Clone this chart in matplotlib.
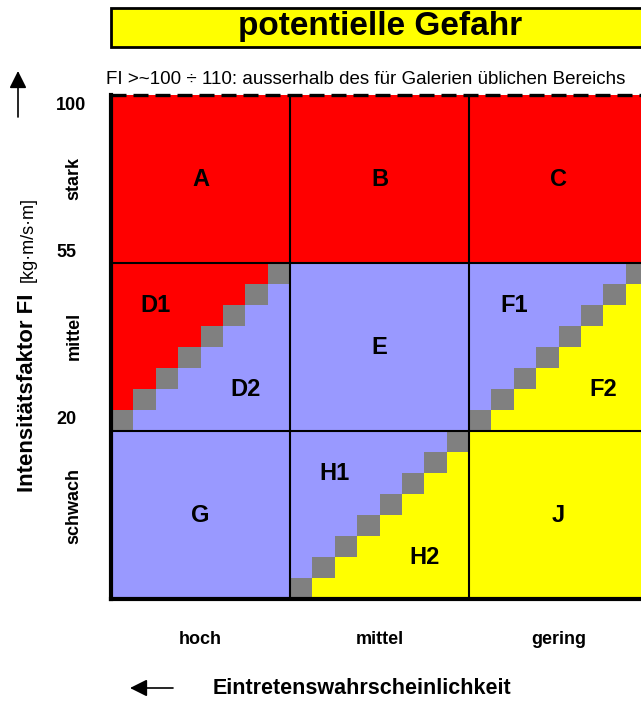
import matplotlib
matplotlib.use('Agg')
import matplotlib.pyplot as plt
import numpy as np
from matplotlib.colors import ListedColormap
from matplotlib.patches import Rectangle, FancyArrowPatch
import matplotlib.transforms as mtransforms

plt.rcParams['font.family'] = ['Liberation Sans', 'DejaVu Sans']

# --- data -------------------------------------------------------------
likelihood = ['hoch', 'mittel', 'gering']        # columns, left -> right
intensity = ['schwach', 'mittel', 'stark']       # rows, bottom -> top
fi_limits = ['20', '55', '100']
title = 'potentielle Gefahr'
note = 'FI >~100 \u00f7 110: ausserhalb des f\u00fcr Galerien \u00fcblichen Bereichs'
ylabel = 'Intensit\u00e4tsfaktor FI'
yunit = '[kg\u00b7m/s\u00b7m]'
xlabel = 'Eintretenswahrscheinlichkeit'

# zones per row (bottom -> top)
zone_names = [['G', 'H', 'J'],
              ['D', 'E', 'F'],
              ['A', 'B', 'C']]
# colour index: 0 red, 1 blue, 2 yellow, 3 grey (transition)
zone_upper = [[1, 1, 2],
              [0, 1, 1],
              [0, 0, 0]]
zone_lower = [[1, 2, 2],
              [1, 1, 2],
              [0, 0, 0]]
n_steps = 8
colors = ['#ff0000', '#9999ff', '#ffff00', '#808080']

# --- build colour grid -------------------------------------------------
grid = np.zeros((3 * n_steps, 3 * n_steps), dtype=int)
for r in range(3):
    for c in range(3):
        up, lo = zone_upper[r][c], zone_lower[r][c]
        for i in range(n_steps):
            for j in range(n_steps):
                if up == lo:
                    v = up
                elif i == j:
                    v = 3
                elif i > j:
                    v = up
                else:
                    v = lo
                grid[r * n_steps + i, c * n_steps + j] = v

W, H = 641, 702
fig = plt.figure(figsize=(W / 100, H / 100), dpi=100)


def fx(px):
    return px / W


def fy(py):
    return 1 - py / H


ax = fig.add_axes([fx(111), fy(599), fx(648) - fx(111), fy(95) - fy(599)])
edges = np.linspace(0, 3, 3 * n_steps + 1)
ax.pcolormesh(edges, edges, grid, cmap=ListedColormap(colors), vmin=0, vmax=3)
ax.set_xlim(0, 3)
ax.set_ylim(0, 3)
ax.axis('off')

# grid lines
for k in (1, 2):
    ax.plot([k, k], [0, 3], color='black', lw=1.5)
    ax.plot([0, 3], [k, k], color='black', lw=1.5)
ax.plot([0, 0], [0, 3], color='black', lw=3, clip_on=False, solid_capstyle='projecting')
ax.plot([0, 3], [0, 0], color='black', lw=3, clip_on=False, solid_capstyle='projecting')
ax.plot([0, 3], [3, 3], color='black', lw=2.4, clip_on=False, dashes=(4.5, 2.1))

# zone labels
lab_kw = dict(ha='center', va='center', fontsize=17, fontweight='bold')
for r in range(3):
    for c in range(3):
        name = zone_names[r][c]
        if zone_upper[r][c] == zone_lower[r][c]:
            ax.text(c + 0.5, r + 0.5, name, **lab_kw)
        else:
            ax.text(c + 0.25, r + 0.75, name + '1', **lab_kw)
            ax.text(c + 0.75, r + 0.25, name + '2', **lab_kw)

# title box
fig.patches.append(Rectangle((fx(111), fy(47)), fx(660) - fx(111), fy(8) - fy(47),
                             transform=fig.transFigure, facecolor='#ffff00',
                             edgecolor='black', lw=2))
fig.text(fx(380), fy(27), title, ha='center', va='center', fontsize=24,
         fontweight='bold')
fig.text(fx(106), fy(79), note, ha='left', va='center', fontsize=13.5)

# row labels and FI limits
row_pos = [506, 336, 178]
for r, name in enumerate(intensity):
    fig.text(fx(74), fy(row_pos[r]), name, rotation=90, ha='center',
             va='center', fontsize=13, fontweight='bold')
lim_pos = [420, 252, 105]
for k, lim in enumerate(fi_limits):
    fig.text(fx(56), fy(lim_pos[k]), lim, ha='left', va='center',
             fontsize=13, fontweight='bold')

# column labels
tr_x = mtransforms.blended_transform_factory(ax.transData, fig.transFigure)
for c, name in enumerate(likelihood):
    fig.text(c + 0.5, fy(640), name, transform=tr_x, ha='center', va='center',
             fontsize=13, fontweight='bold')

# axis titles and arrows
fig.text(fx(28), fy(393), ylabel, rotation=90, ha='center', va='center',
         fontsize=16, fontweight='bold')
fig.text(fx(28), fy(240), yunit, rotation=90, ha='center', va='center',
         fontsize=13)
fig.text(fx(213), fy(688), xlabel, ha='left', va='center', fontsize=15.5,
         fontweight='bold')
fig.patches.append(FancyArrowPatch((fx(18), fy(117)), (fx(18), fy(71)),
                                   transform=fig.transFigure, arrowstyle='-|>',
                                   mutation_scale=26, color='black', lw=1.2,
                                   shrinkA=0, shrinkB=0))
fig.patches.append(FancyArrowPatch((fx(173), fy(688)), (fx(130), fy(688)),
                                   transform=fig.transFigure, arrowstyle='-|>',
                                   mutation_scale=26, color='black', lw=1.2,
                                   shrinkA=0, shrinkB=0))

fig.savefig('out.png', dpi=100)
